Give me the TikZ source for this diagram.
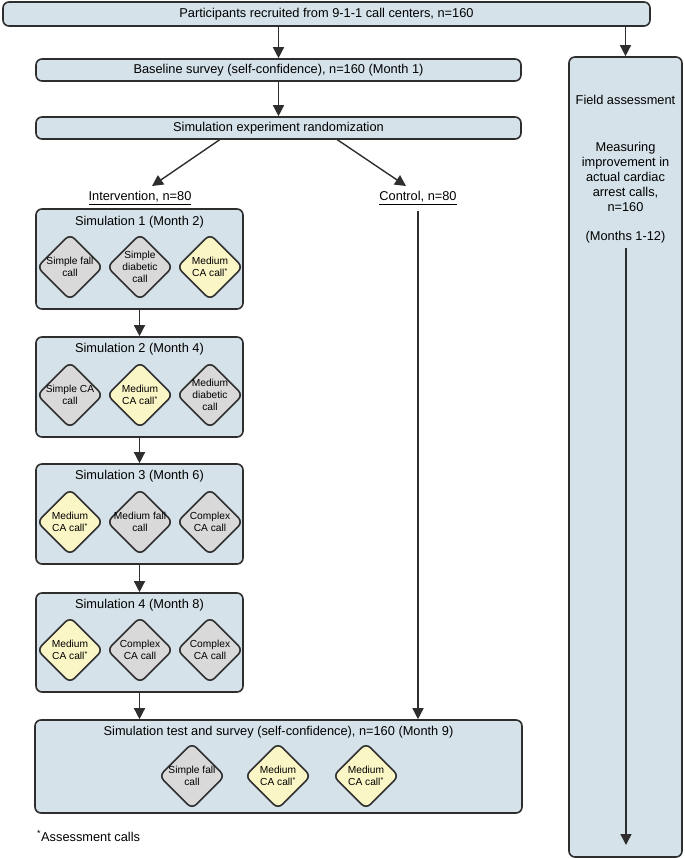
\documentclass[tikz,border=0pt]{standalone}
\usepackage{fontspec}
\setmainfont{Liberation Sans}
\usetikzlibrary{shapes.geometric,arrows.meta}
\definecolor{boxfill}{HTML}{D5E2E9}
\definecolor{grayd}{HTML}{D9D9D9}
\definecolor{yeld}{HTML}{FAF6C6}
\definecolor{linec}{HTML}{2E2E2E}
\begin{document}
\begin{tikzpicture}[x=1pt,y=-1pt,
  box/.style={draw=linec,line width=1.6pt,rounded corners=6pt,fill=boxfill,inner sep=0pt,
    font=\fontsize{12.8}{15}\selectfont},
  maintxt/.style={font=\fontsize{12.8}{15}\selectfont,inner sep=0pt,align=center},
  ditxt/.style={font=\fontsize{10.2}{12}\selectfont,inner sep=0pt,align=center},
  dia/.style={shape=diamond,draw=linec,line width=1.6pt,rounded corners=6pt,inner sep=0pt,
    minimum width=66pt,minimum height=66pt},
  dgray/.style={dia,fill=grayd},
  dyel/.style={dia,fill=yeld},
  arr/.style={draw=linec,line width=1.4pt,-{Triangle[length=11pt,width=11pt]}},
  plain/.style={draw=linec,line width=1.4pt}
]
\useasboundingbox (0,0) rectangle (685,859);

% top boxes
\node[box,minimum width=647pt,minimum height=24pt] (top) at (326.5,14) {Participants recruited from 9-1-1 call centers, n=160};
\node[box,minimum width=485pt,minimum height=22pt] (base) at (278.5,70) {Baseline survey (self-confidence), n=160 (Month 1)};
\node[box,minimum width=485pt,minimum height=22pt] (rand) at (278.5,128) {Simulation experiment randomization};
\node[box,minimum width=113pt,minimum height=800pt] (field) at (625.5,457) {};

\node[maintxt] (fa) at (625.5,100) {Field assessment};
\node[maintxt] (fm) at (625.5,177) {Measuring\\improvement in\\actual cardiac\\arrest calls,\\n=160};
\node[maintxt] (fmo) at (625.5,237) {(Months 1-12)};

\draw[arr] (top.south -| base.north) -- (base.north);
\draw[arr] (top.south -| field.north) -- (field.north);
\draw[arr] (base.south) -- (rand.north);

% groups
\node[maintxt] (int) at (140,198) {\underline{Intervention, n=80}};
\node[maintxt] (ctrl) at (418,198) {\underline{Control, n=80}};
\coordinate (r1) at (220,139.5);
\coordinate (r1e) at (152,186);
\coordinate (r2) at (337,139.5);
\coordinate (r2e) at (406,186);
\draw[arr] (r1) -- (r1e);
\draw[arr] (r2) -- (r2e);

% simulation boxes
\node[box,minimum width=207pt,minimum height=100pt] (s1) at (139.5,259) {};
\node[box,minimum width=207pt,minimum height=100pt] (s2) at (139.5,387) {};
\node[box,minimum width=207pt,minimum height=100pt] (s3) at (139.5,514) {};
\node[box,minimum width=207pt,minimum height=99pt] (s4) at (139.5,642.5) {};
\node[box,minimum width=487pt,minimum height=93pt] (fin) at (278.5,766.5) {};

\node[maintxt] (t1) at (139.5,222) {Simulation 1 (Month 2)};
\node[maintxt] (t2) at (139.5,349) {Simulation 2 (Month 4)};
\node[maintxt] (t3) at (139.5,476) {Simulation 3 (Month 6)};
\node[maintxt] (t4) at (139.5,605) {Simulation 4 (Month 8)};
\node[maintxt] (tf) at (278.5,732) {Simulation test and survey (self-confidence), n=160 (Month 9)};

% diamonds
\node[dgray,label={[ditxt]center:Simple fall\\call}] (d11) at (70,267) {};
\node[dgray,label={[ditxt]center:Simple\\diabetic\\call}] (d12) at (140,267) {};
\node[dyel,label={[ditxt]center:Medium\\CA call\textsuperscript{*}}] (d13) at (210,267) {};

\node[dgray,label={[ditxt]center:Simple CA\\call}] (d21) at (70,395) {};
\node[dyel,label={[ditxt]center:Medium\\CA call\textsuperscript{*}}] (d22) at (140,395) {};
\node[dgray,label={[ditxt]center:Medium\\diabetic\\call}] (d23) at (210,395) {};

\node[dyel,label={[ditxt]center:Medium\\CA call\textsuperscript{*}}] (d31) at (70,522) {};
\node[dgray,label={[ditxt]center:Medium fall\\call}] (d32) at (140,522) {};
\node[dgray,label={[ditxt]center:Complex\\CA call}] (d33) at (210,522) {};

\node[dyel,label={[ditxt]center:Medium\\CA call\textsuperscript{*}}] (d41) at (70,650) {};
\node[dgray,label={[ditxt]center:Complex\\CA call}] (d42) at (140,650) {};
\node[dgray,label={[ditxt]center:Complex\\CA call}] (d43) at (210,650) {};

\node[dgray,label={[ditxt]center:Simple fall\\call}] (df1) at (192,776) {};
\node[dyel,label={[ditxt]center:Medium\\CA call\textsuperscript{*}}] (df2) at (278,776) {};
\node[dyel,label={[ditxt]center:Medium\\CA call\textsuperscript{*}}] (df3) at (366,776) {};

% connectors
\draw[arr] (s1.south) -- (s2.north);
\draw[arr] (s2.south) -- (s3.north);
\draw[arr] (s3.south) -- (s4.north);
\draw[arr] (s4.south) -- (s4.south |- fin.north);
\coordinate (cs) at (418,211);
\draw[arr] (cs) -- (cs |- fin.north);
\coordinate (fl1) at (626,248);
\coordinate (fl2) at (626,845);
\draw[arr] (fl1) -- (fl2);

\node[maintxt,anchor=west] (note) at (37,836) {\textsuperscript{*}Assessment calls};
\end{tikzpicture}
\end{document}
